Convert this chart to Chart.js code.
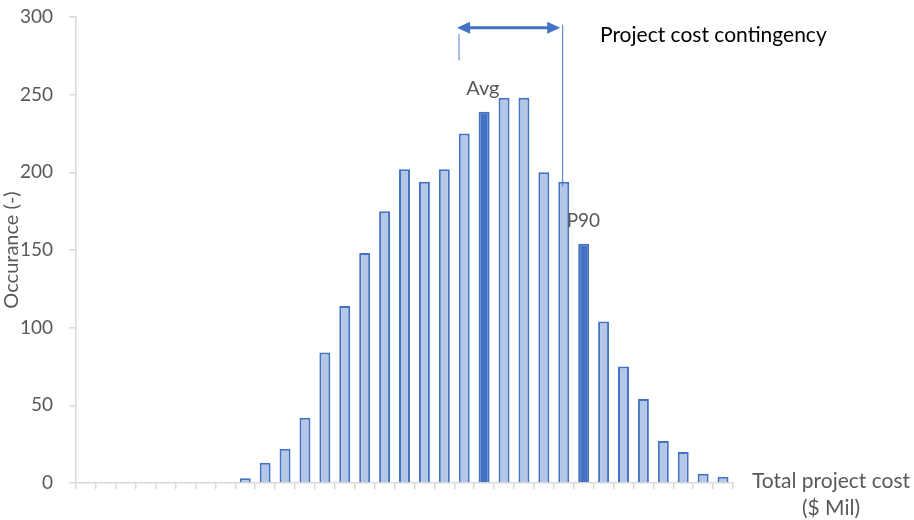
<!DOCTYPE html>
<html><head><meta charset="utf-8">
<script src="https://cdn.jsdelivr.net/npm/chart.js@4.4.1/dist/chart.umd.min.js"></script>
<style>html,body{margin:0;padding:0;background:#fff}#wrap{width:914px;height:520px}</style>
</head><body><div id="wrap"><canvas id="c" width="914" height="520"></canvas></div>
<script>
const categories = Array.from({length:33}, (_, i) => 'C' + (i + 1));
const occurrences = [null,null,null,null,null,null,null,null,
  3,13,22,42,84,114,148,175,202,194,202,225,239,248,248,200,194,154,104,75,54,27,20,6,4];
const highlight = {20:'Avg', 25:'P90'};
const yTicks = [0,50,100,150,200,250,300];
const contingency = {from:18.74, to:23.92, arrowY:293};

const FONT = 'Lato, "Open Sans", sans-serif';
const light = '#B4C7E7', dark = '#4472C4';

const annot = {
  id:'annot',
  afterDatasetsDraw(chart){
    const {ctx, scales:{x,y}} = chart;
    ctx.save();
    ctx.fillStyle = '#595959';
    ctx.textAlign = 'left';
    ctx.textBaseline = 'middle';
    ctx.font = '20px ' + FONT;
    ctx.fillText('Avg', x.getPixelForValue(20) - 18, y.getPixelForValue(254));
    ctx.font = '19px ' + FONT;
    ctx.fillText('P90', x.getPixelForValue(25) - 17, y.getPixelForValue(169));
    const xl = x.getPixelForValue(contingency.from), xr = x.getPixelForValue(contingency.to);
    ctx.strokeStyle = '#8FAADC'; ctx.lineWidth = 1.5;
    ctx.beginPath(); ctx.moveTo(xl, y.getPixelForValue(289)); ctx.lineTo(xl, y.getPixelForValue(272)); ctx.stroke();
    ctx.strokeStyle = dark; ctx.lineWidth = 1;
    ctx.beginPath(); ctx.moveTo(xr+0.5, y.getPixelForValue(295)); ctx.lineTo(xr+0.5, y.getPixelForValue(191)); ctx.stroke();
    const ay = y.getPixelForValue(contingency.arrowY);
    const x1 = xl - 2, x2 = xr - 2;
    ctx.strokeStyle = dark; ctx.fillStyle = dark; ctx.lineWidth = 3;
    ctx.beginPath(); ctx.moveTo(x1 + 10, ay); ctx.lineTo(x2 - 10, ay); ctx.stroke();
    ctx.beginPath(); ctx.moveTo(x1, ay); ctx.lineTo(x1 + 13, ay - 6); ctx.lineTo(x1 + 13, ay + 6); ctx.closePath(); ctx.fill();
    ctx.beginPath(); ctx.moveTo(x2, ay); ctx.lineTo(x2 - 13, ay - 6); ctx.lineTo(x2 - 13, ay + 6); ctx.closePath(); ctx.fill();
    ctx.fillStyle = '#000';
    ctx.font = '21px ' + FONT;
    ctx.fillText('Project cost contingency', 600, 35);
    ctx.fillStyle = '#595959';
    ctx.textAlign = 'center';
    ctx.font = '21px ' + FONT;
    ctx.fillText('Total project cost', 831, 481);
    ctx.fillText('($ Mil)', 831, 508);
    ctx.restore();
  }
};

new Chart(document.getElementById('c'), {
  type:'bar',
  data:{
    labels:categories,
    datasets:[{
      data:occurrences,
      backgroundColor:occurrences.map((v,i)=>highlight[i]?dark:light),
      borderColor:dark,
      borderWidth:2,
      barPercentage:0.55,
      categoryPercentage:1
    }]
  },
  options:{
    responsive:false,
    animation:false,
    layout:{padding:{top:17,right:181,bottom:0,left:0}},
    plugins:{legend:{display:false},tooltip:{enabled:false}},
    scales:{
      x:{
        offset:true,
        grid:{offset:true,drawOnChartArea:false,color:'#D9D9D9',tickLength:6,lineWidth:1.5},
        border:{color:'#D9D9D9',width:1.5},
        ticks:{display:false},
        afterFit(s){s.height = 37; s.paddingLeft = 0; s.paddingRight = 0;}
      },
      y:{
        min:0,max:300,
        afterBuildTicks(s){s.ticks = yTicks.map(v=>({value:v}));},
        grid:{drawOnChartArea:false,color:'#D9D9D9',tickLength:7,lineWidth:1.5},
        border:{color:'#D9D9D9',width:1.5},
        ticks:{color:'#595959',font:{family:FONT,size:19},padding:16},
        title:{display:true,text:'Occurance (-)',color:'#595959',font:{family:FONT,size:20},padding:{top:0,bottom:0}},
        afterFit(s){s.width = 76; s.paddingTop = 0; s.paddingBottom = 0;}
      }
    }
  },
  plugins:[annot]
});
</script></body></html>
